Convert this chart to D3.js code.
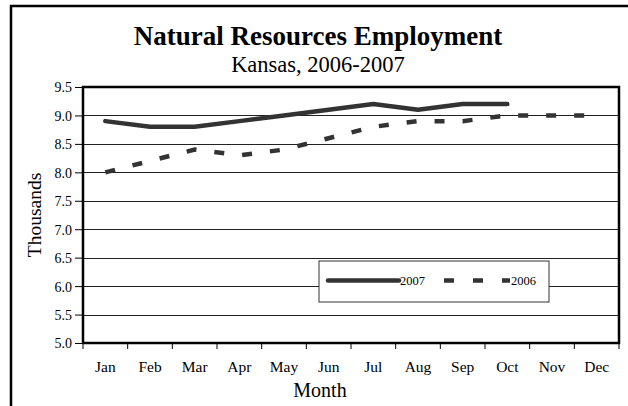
<!DOCTYPE html>
<html>
<head>
<meta charset="utf-8">
<script src="https://cdn.jsdelivr.net/npm/d3@7"></script>
<style>
    body { margin: 0; background: #fff; }
    svg text { font-family: "Liberation Serif", "Times New Roman", serif; fill: #000; }
</style>
</head>
<body>
<div id="chart"></div>
<script>
var months = ["Jan", "Feb", "Mar", "Apr", "May", "Jun", "Jul", "Aug", "Sep", "Oct", "Nov", "Dec"];
var values2007 = [8.9, 8.8, 8.8, 8.9, 9.0, 9.1, 9.2, 9.1, 9.2, 9.2];
var values2006 = [8.0, 8.2, 8.4, 8.3, 8.4, 8.6, 8.8, 8.9, 8.9, 9.0, 9.0, 9.0];
var yTicks = [5.0, 5.5, 6.0, 6.5, 7.0, 7.5, 8.0, 8.5, 9.0, 9.5];

var width = 628;
var height = 406;
var margin = { left: 83, top: 87, right: 9, bottom: 63 };
var lineColor = "#333";
var serif = '"Liberation Serif", "Times New Roman", serif';

var svg = d3.select("#chart").append("svg")
    .attr("width", width)
    .attr("height", height);

// outer chart border (runs off the right and bottom of the picture)
svg.append("rect")
    .attr("x", 11)
    .attr("y", 6)
    .attr("width", 640)
    .attr("height", 420)
    .attr("fill", "none")
    .attr("stroke", "#000")
    .attr("stroke-width", 2.5);

var x = d3.scaleBand()
    .domain(months)
    .range([margin.left, width - margin.right]);

var y = d3.scaleLinear()
    .domain([5, 9.5])
    .range([height - margin.bottom, margin.top]);

// gridlines
svg.append("g")
    .selectAll("line")
    .data(yTicks.slice(1, -1))
    .enter().append("line")
    .attr("x1", margin.left)
    .attr("x2", width - margin.right)
    .attr("y1", function(d) { return Math.round(y(d)) + 0.5; })
    .attr("y2", function(d) { return Math.round(y(d)) + 0.5; })
    .attr("stroke", "#222")
    .attr("stroke-width", 1);

// y axis
var yAxis = svg.append("g")
    .attr("transform", "translate(" + margin.left + ",0)")
    .call(d3.axisLeft(y).tickValues(yTicks).tickFormat(d3.format(".1f")).tickSize(8).tickPadding(3));
yAxis.attr("font-family", serif);
yAxis.select(".domain").remove();
yAxis.selectAll("text").style("font-size", "14px").attr("dy", "0.35em");

// x axis ticks sit on band edges
var xAxis = svg.append("g")
    .attr("transform", "translate(0," + (height - margin.bottom) + ")");
xAxis.selectAll("line")
    .data(months.concat(["end"]))
    .enter().append("line")
    .attr("x1", function(d, i) { return margin.left + i * x.bandwidth(); })
    .attr("x2", function(d, i) { return margin.left + i * x.bandwidth(); })
    .attr("y1", 0)
    .attr("y2", 6)
    .attr("stroke", "#000");
xAxis.selectAll("text")
    .data(months)
    .enter().append("text")
    .attr("x", function(d) { return x(d) + x.bandwidth() / 2; })
    .attr("y", 29)
    .attr("text-anchor", "middle")
    .style("font-size", "15.5px")
    .text(function(d) { return d; });

// plot area border
svg.append("rect")
    .attr("x", margin.left)
    .attr("y", margin.top)
    .attr("width", width - margin.left - margin.right)
    .attr("height", height - margin.top - margin.bottom)
    .attr("fill", "none")
    .attr("stroke", "#000")
    .attr("stroke-width", 2.5);

var line = d3.line()
    .x(function(d, i) { return x(months[i]) + x.bandwidth() / 2; })
    .y(function(d) { return y(d); });

svg.append("path")
    .datum(values2006)
    .attr("d", line)
    .attr("fill", "none")
    .attr("stroke", lineColor)
    .attr("stroke-width", 4.5)
    .attr("stroke-dasharray", "10,18");

svg.append("path")
    .datum(values2007)
    .attr("d", line)
    .attr("fill", "none")
    .attr("stroke", lineColor)
    .attr("stroke-width", 4.5)
    .attr("stroke-linecap", "round")
    .attr("stroke-linejoin", "round");

// titles
svg.append("text")
    .attr("x", 318)
    .attr("y", 45)
    .attr("text-anchor", "middle")
    .style("font-size", "27px")
    .style("font-weight", "bold")
    .text("Natural Resources Employment");

svg.append("text")
    .attr("x", 318)
    .attr("y", 72)
    .attr("text-anchor", "middle")
    .style("font-size", "22.5px")
    .text("Kansas, 2006-2007");

svg.append("text")
    .attr("x", 320)
    .attr("y", 397)
    .attr("text-anchor", "middle")
    .style("font-size", "20px")
    .text("Month");

svg.append("text")
    .attr("transform", "translate(41,215) rotate(-90)")
    .attr("text-anchor", "middle")
    .style("font-size", "19.5px")
    .text("Thousands");

// legend
var legend = svg.append("g")
    .attr("transform", "translate(319,261)");
legend.append("rect")
    .attr("width", 230)
    .attr("height", 41)
    .attr("fill", "#fff")
    .attr("stroke", "#333")
    .attr("stroke-width", 1);
legend.append("line")
    .attr("x1", 9).attr("x2", 80)
    .attr("y1", 19.5).attr("y2", 19.5)
    .attr("stroke", lineColor)
    .attr("stroke-width", 4.5)
    .attr("stroke-linecap", "round");
legend.append("text")
    .attr("x", 81).attr("y", 24)
    .style("font-size", "12.5px")
    .text("2007");
legend.append("line")
    .attr("x1", 125).attr("x2", 191)
    .attr("y1", 19.5).attr("y2", 19.5)
    .attr("stroke", lineColor)
    .attr("stroke-width", 4.5)
    .attr("stroke-dasharray", "10,19");
legend.append("text")
    .attr("x", 192).attr("y", 24)
    .style("font-size", "12.5px")
    .text("2006");
</script>
</body>
</html>
